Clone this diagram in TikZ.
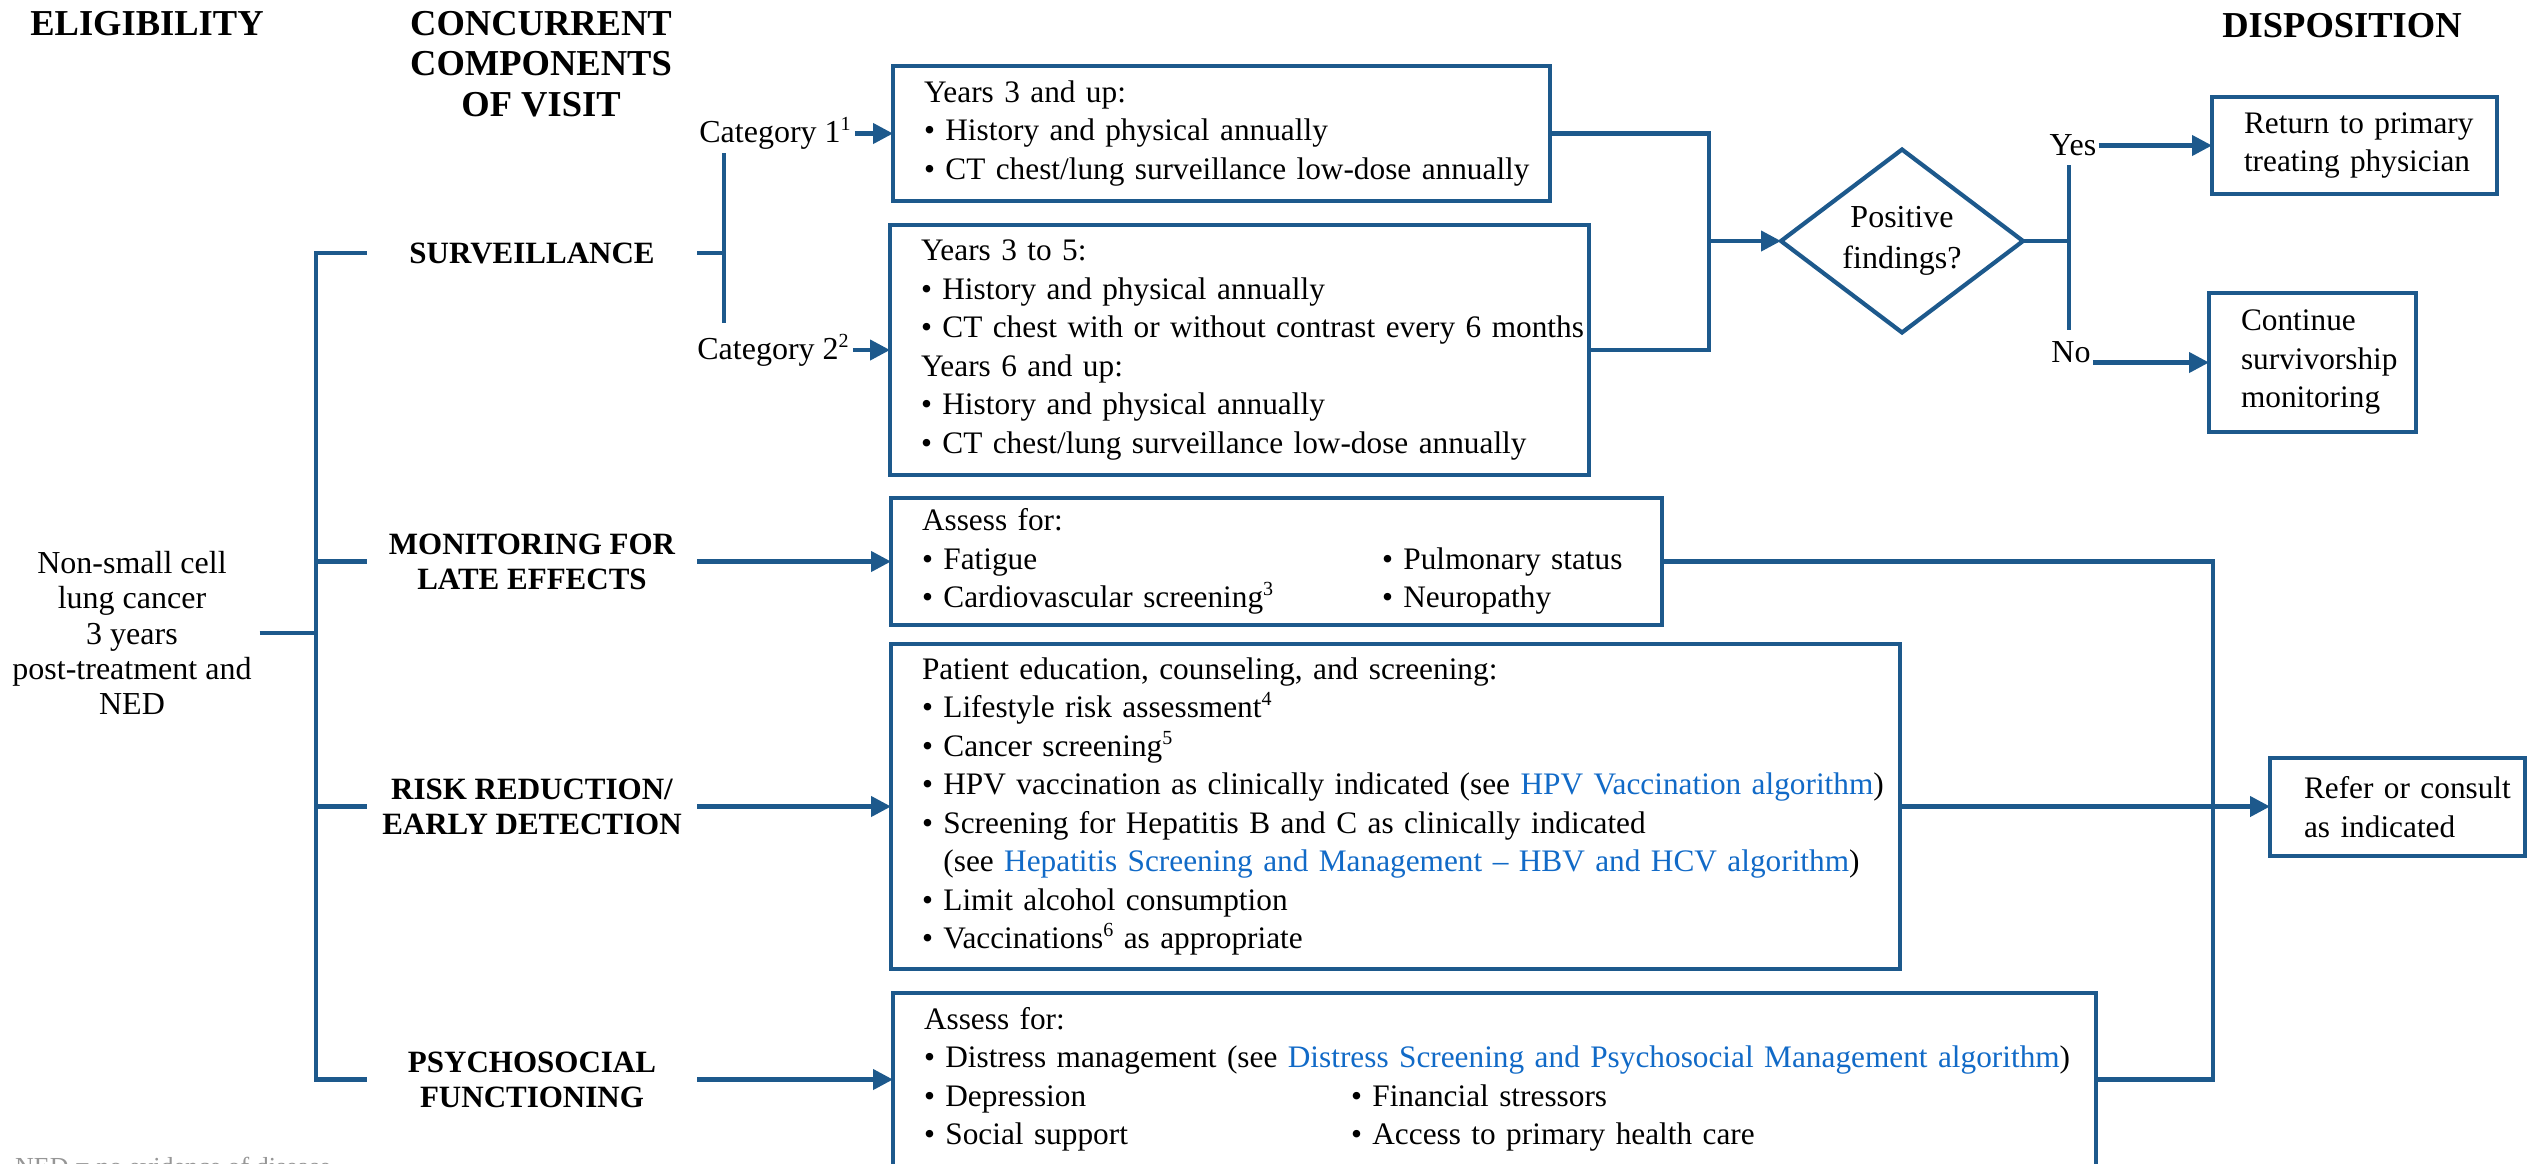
\documentclass[tikz,border=0pt]{standalone}
\usepackage{fontspec}
\setmainfont{Liberation Serif}
\usetikzlibrary{arrows.meta,shapes.geometric}
\definecolor{nccnblue}{RGB}{29,89,140}
\definecolor{linkblue}{RGB}{17,106,199}
\definecolor{fngray}{RGB}{150,150,150}
\newcommand\mybul[1]{\mbox{\textbullet\ #1}}
\newcommand\myln[1]{\mbox{#1}}
\newcommand\lnk[1]{\textcolor{linkblue}{#1}}
\newcommand\mysup[1]{\raisebox{12pt}{\fontsize{20pt}{20pt}\selectfont #1}}
\begin{document}
\begin{tikzpicture}[x=1pt,y=-1pt,
  conn/.style={draw=nccnblue, line width=4.2pt},
  arr/.style={conn, -{Triangle[length=20pt,width=20pt]}},
  box/.style={draw=nccnblue, line width=4.5pt, rectangle, inner xsep=31pt, inner ysep=0pt, outer sep=0pt,
    align=left, anchor=north west, font=\fontsize{31.3pt}{38.5pt}\selectfont},
  hdr/.style={font=\bfseries\fontsize{36.5pt}{40.5pt}\selectfont, align=center, inner sep=0pt},
  comp/.style={font=\bfseries\fontsize{31pt}{35pt}\selectfont, align=center, minimum width=330pt, inner sep=0pt},
  lbl/.style={font=\fontsize{32pt}{38.5pt}\selectfont, inner sep=4pt}
]
\useasboundingbox (0,0) rectangle (2537,1163);

% headers
\node[hdr] (h1) at (147,23.5) {ELIGIBILITY};
\node[hdr] (h2) at (541,64) {CONCURRENT\\COMPONENTS\\OF VISIT};
\node[hdr] (h3) at (2342,25.5) {DISPOSITION};

% eligibility
\node[lbl, align=center, font=\fontsize{32pt}{35.3pt}\selectfont, inner xsep=8pt] (elig) at (132,633)
  {Non-small cell\\lung cancer\\3 years\\post-treatment and\\NED};

% components
\node[comp] (survl) at (532,253) {SURVEILLANCE};
\node[comp] (monl) at (532,561.5) {MONITORING FOR\\LATE EFFECTS};
\node[comp] (riskl) at (532,806.5) {RISK REDUCTION/\\EARLY DETECTION};
\node[comp] (psyl) at (532,1079.5) {PSYCHOSOCIAL\\FUNCTIONING};

\node[lbl] (cat1) at (775,133.5) {Category 1\mysup{1}};
\node[lbl] (cat2) at (773,350) {Category 2\mysup{2}};

% boxes
\node[box, minimum width=657pt, text width=595pt, minimum height=135pt] (box1) at (893,66)
  {\myln{Years 3 and up:}\\
   \mybul{History and physical annually}\\
   \mybul{CT chest/lung surveillance low-dose annually}};
\node[box, minimum width=699pt, text width=637pt, minimum height=250pt] (box2) at (890,225)
  {\myln{Years 3 to 5:}\\
   \mybul{History and physical annually}\\
   \mybul{CT chest with or without contrast every 6 months}\\
   \myln{Years 6 and up:}\\
   \mybul{History and physical annually}\\
   \mybul{CT chest/lung surveillance low-dose annually}};
\node[box, minimum width=771pt, text width=709pt, minimum height=127pt] (mon) at (891,498)
  {\myln{Assess for:}\\
   \mbox{\makebox[460pt][l]{\textbullet\ Fatigue}\textbullet\ Pulmonary status}\\
   \mbox{\makebox[460pt][l]{\textbullet\ Cardiovascular screening\mysup{3}}\textbullet\ Neuropathy}};
\node[box, minimum width=1009pt, text width=947pt, minimum height=325pt] (risk) at (891,644)
  {\myln{Patient education, counseling, and screening:}\\
   \mybul{Lifestyle risk assessment\mysup{4}}\\
   \mybul{Cancer screening\mysup{5}}\\
   \mybul{HPV vaccination as clinically indicated (see \lnk{HPV Vaccination algorithm})}\\
   \mybul{Screening for Hepatitis B and C as clinically indicated}\\
   \myln{\phantom{\textbullet\ }(see \lnk{Hepatitis Screening and Management – HBV and HCV algorithm})}\\
   \mybul{Limit alcohol consumption}\\
   \mybul{Vaccinations\mysup{6} as appropriate}};
\node[box, minimum width=1203pt, text width=1141pt, minimum height=173pt] (psy) at (893,993)
  {\myln{Assess for:}\\
   \mybul{Distress management (see \lnk{Distress Screening and Psychosocial Management algorithm})}\\
   \mbox{\makebox[427pt][l]{\textbullet\ Depression}\textbullet\ Financial stressors}\\
   \mbox{\makebox[427pt][l]{\textbullet\ Social support}\textbullet\ Access to primary health care}};

% decision
\node[diamond, aspect=1.32, draw=nccnblue, line width=4.2pt, minimum width=242pt, minimum height=183pt,
  inner sep=0pt, outer sep=0pt, align=center, font=\fontsize{32pt}{41pt}\selectfont] (diam) at (1902,241)
  {Positive\\findings?};
\node[lbl, inner sep=2pt] (yes) at (2073,145.5) {Yes};
\node[lbl, inner sep=2pt, anchor=base] (no) at (2071,362.5) {No};

% disposition boxes
\node[box, inner xsep=32pt, minimum width=285pt, text width=221pt, minimum height=97pt] (ret) at (2212,97)
  {\myln{Return to primary}\\\myln{treating physician}};
\node[box, inner xsep=32pt, minimum width=207pt, text width=143pt, minimum height=139pt] (cont) at (2209,293)
  {\myln{Continue}\\\myln{survivorship}\\\myln{monitoring}};
\node[box, inner xsep=34pt, minimum width=255pt, text width=187pt, minimum height=98pt] (refer) at (2270,758)
  {\myln{Refer or consult}\\\myln{as indicated}};

% footnote (cut off at the bottom edge, as in the source)
\node[anchor=north west, inner sep=0pt, text=fngray, font=\fontsize{26pt}{30pt}\selectfont] (fn) at (15,1157)
  {NED = no evidence of disease};

% coordinates
\coordinate (tk) at (316,0);
\coordinate (bt) at (724,153);
\coordinate (bb) at (724,323);
\coordinate (j1) at (1709,241);
\coordinate (dj) at (2069,241);
\coordinate (vt) at (2069,165);
\coordinate (vb) at (2069,330);
\coordinate (rj) at (2213,807);

% trunk
\draw[conn] (elig.east) -- (elig.east -| tk);
\draw[conn] (survl.west) -- (survl.west -| tk) -- (psyl.west -| tk) -- (psyl.west);
\draw[conn] (monl.west) -- (monl.west -| tk);
\draw[conn] (riskl.west) -- (riskl.west -| tk);

% surveillance bracket
\draw[conn] (survl.east) -- (survl.east -| bt);
\draw[conn] (bt) -- (bb);
\draw[arr] (cat1.east) -- (cat1.east -| box1.west);
\draw[arr] (cat2.east) -- (cat2.east -| box2.west);

% component arrows
\draw[arr] (monl.east) -- (monl.east -| mon.west);
\draw[arr] (riskl.east) -- (riskl.east -| risk.west);
\draw[arr] (psyl.east) -- (psyl.east -| psy.west);

% to decision
\draw[conn] (box1.east) -| (j1);
\draw[conn] (box2.east) -| (j1);
\draw[arr] (j1) -- (diam.west);
\draw[conn] (diam.east) -- (dj);
\draw[conn] (vt) -- (vb);
\draw[arr] (yes.east) -- (yes.east -| ret.west);
\draw[arr] (no.base east) -- (no.base east -| cont.west);

% right side
\draw[conn] (mon.east) -| (rj);
\draw[conn] (psy.east) -| (rj);
\draw[arr] (risk.east) -- (risk.east -| refer.west);
\end{tikzpicture}
\end{document}
